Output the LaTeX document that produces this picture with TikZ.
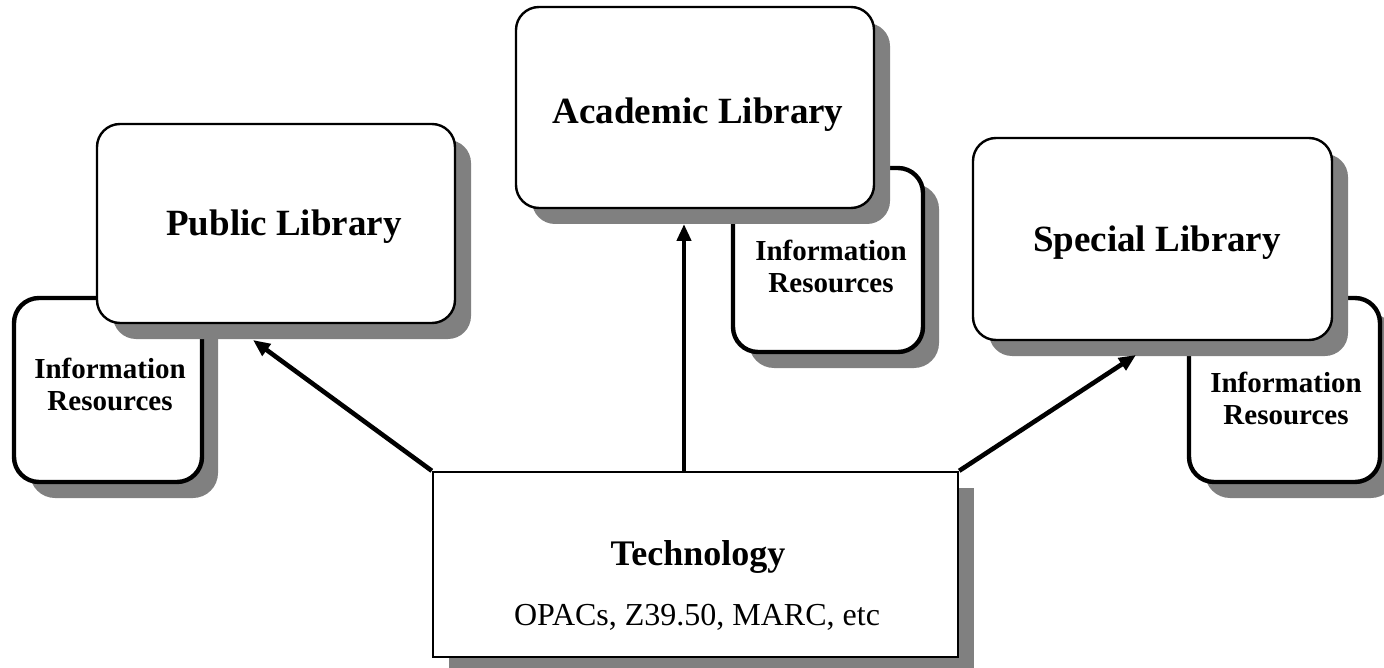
\documentclass[tikz,border=0pt]{standalone}
\usepackage{fontspec}
\setmainfont{Liberation Serif}
\usetikzlibrary{shadows,arrows.meta}
\definecolor{shadowgray}{RGB}{128,128,128}
\tikzset{
  shad/.style={drop shadow={shadow xshift=16pt, shadow yshift=-16pt, fill=shadowgray, opacity=1}},
  libbox/.style={draw=black, fill=white, line width=2.4pt, rounded corners=23pt, inner sep=0pt, shad},
  infobox/.style={draw=black, fill=white, line width=4.4pt, rounded corners=25pt, inner sep=0pt, shad},
  techbox/.style={draw=black, fill=white, line width=2.4pt, inner sep=0pt, shad},
  libtext/.style={font=\fontsize{37}{42}\selectfont\bfseries, inner sep=0pt, anchor=base},
  infotext/.style={font=\fontsize{29}{32}\selectfont\bfseries, align=center, inner sep=0pt, anchor=base},
  conn/.style={line width=4.6pt, -{Triangle[length=17pt, width=14pt]}},
}
\begin{document}
\begin{tikzpicture}[x=1pt, y=-1pt]
\useasboundingbox (0,0) rectangle (1384,668);
% left group
\node[infobox, minimum width=188pt, minimum height=184pt] (infoL) at (108,390) {};
\node[infotext] (infoLt) at (110,410) {Information\\Resources};
\node[libbox, minimum width=358pt, minimum height=199pt] (pub) at (276,223.5) {};
\node[libtext] (pubt) at (284,236) {Public Library};
% middle group
\node[infobox, minimum width=190pt, minimum height=184pt] (infoM) at (828,260) {};
\node[infotext] (infoMt) at (831,293) {Information\\Resources};
\node[libbox, minimum width=358pt, minimum height=201pt] (aca) at (695,107.5) {};
\node[libtext] (acat) at (698,124) {Academic Library};
% right group
\node[infobox, minimum width=191pt, minimum height=184pt] (infoR) at (1284.5,390) {};
\node[infotext] (infoRt) at (1286,424) {Information\\Resources};
\node[libbox, minimum width=359pt, minimum height=202pt] (spe) at (1152.5,239) {};
\node[libtext] (spet) at (1157,252) {Special Library};
% technology
\node[techbox, minimum width=525pt, minimum height=185pt] (tech) at (695.5,564.5) {};
\node[font=\fontsize{36}{40}\selectfont\bfseries, inner sep=0pt, anchor=base] (techt) at (698,565) {Technology};
\node[font=\fontsize{32}{36}\selectfont, inner sep=0pt, anchor=base] (techs) at (697,625) {OPACs, Z39.50, MARC, etc};
% arrow targets
\coordinate (pubtip) at (253,340);
\coordinate (acatip) at (684,224);
\coordinate (spetip) at (1136,355);
\draw[conn] (tech.north west) -- (pubtip);
\draw[conn] (tech.north -| acatip) -- (acatip);
\draw[conn] (tech.north east) -- (spetip);
\end{tikzpicture}
\end{document}
